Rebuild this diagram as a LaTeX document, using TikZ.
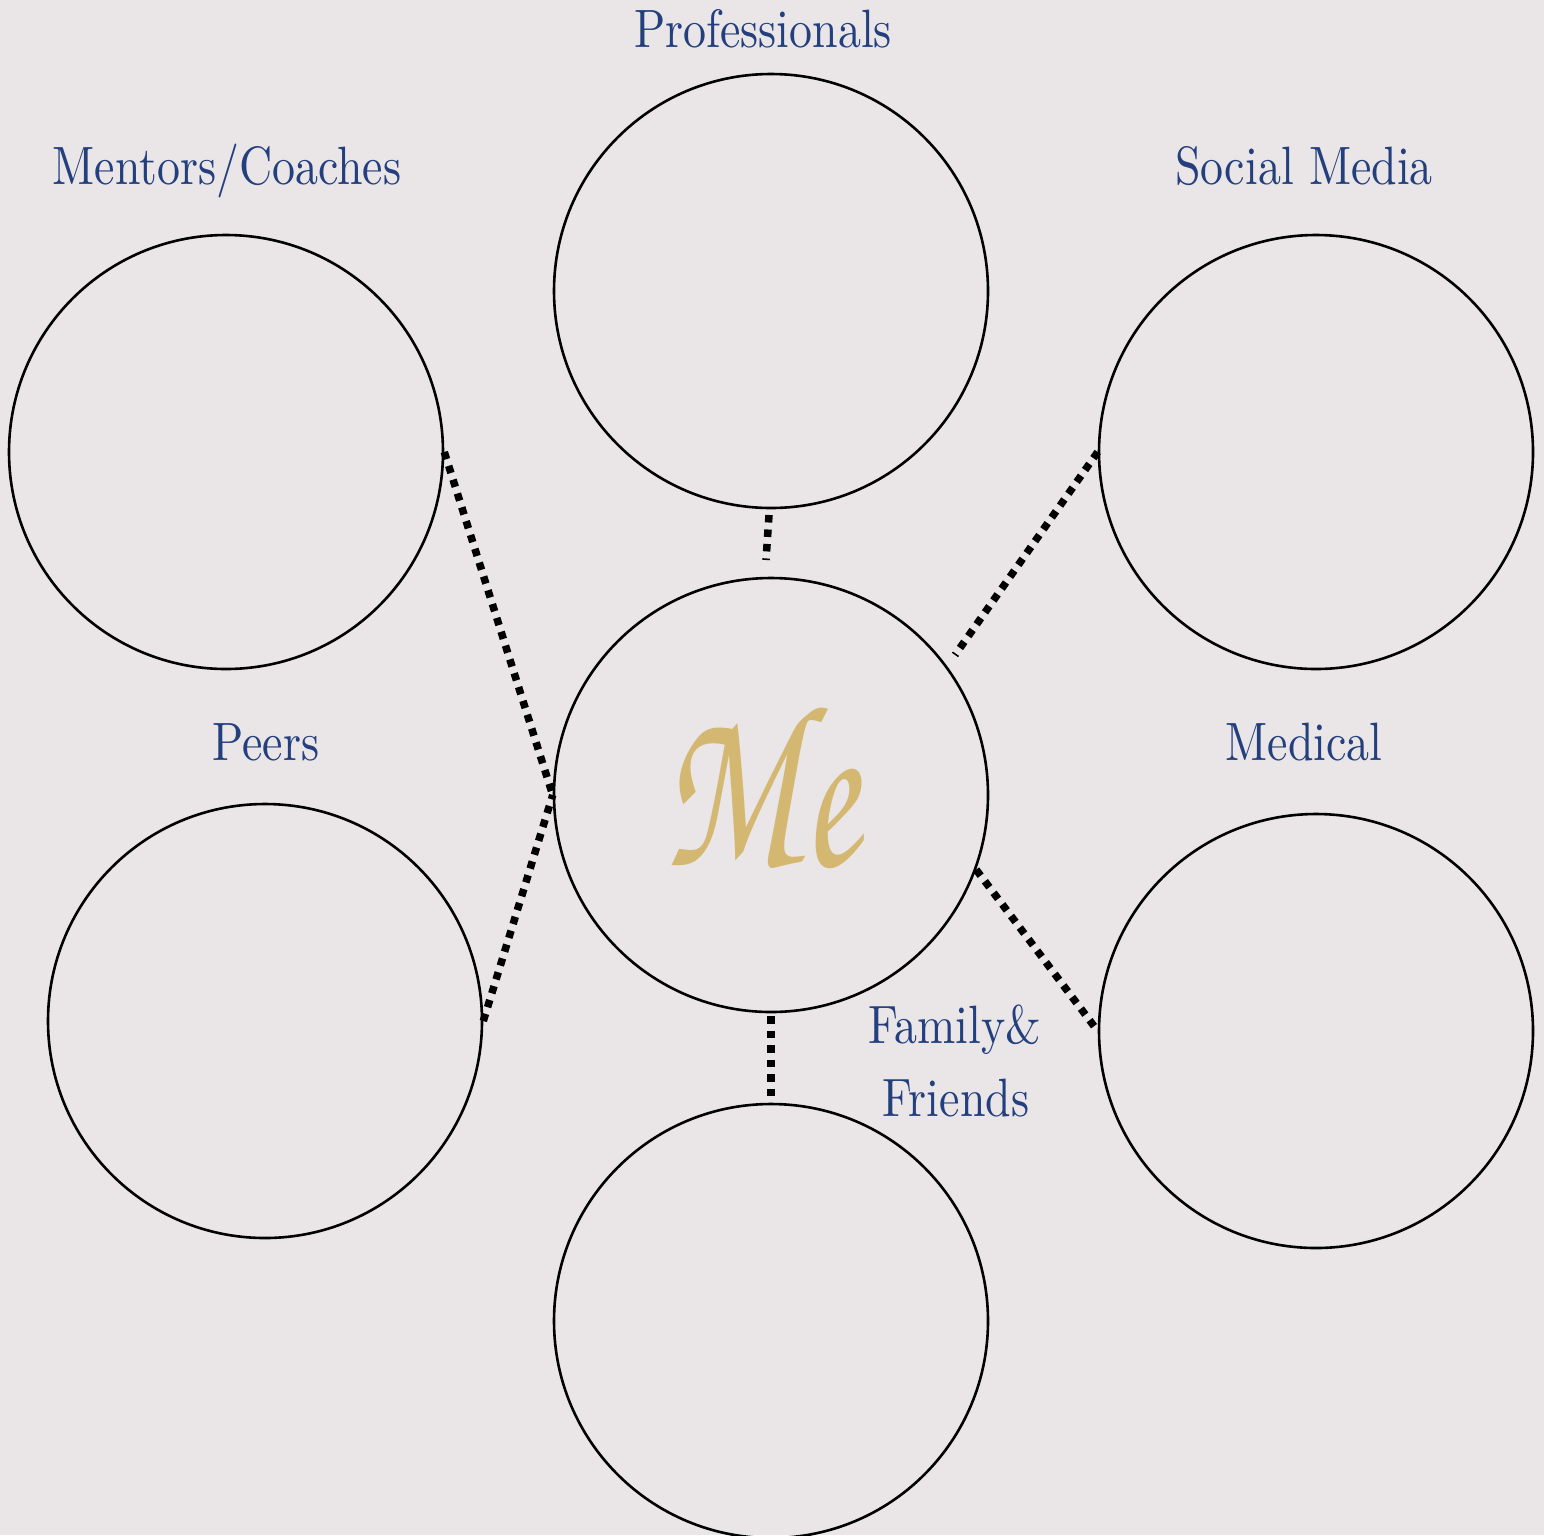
\documentclass[tikz,border=0pt]{standalone}
\usepackage{fontspec}
\setmainfont[FakeStretch=0.85]{lmroman10-regular.otf}
\newfontfamily\mescript[FakeStretch=0.7]{texgyrechorus-mediumitalic.otf}
\definecolor{bg}{HTML}{EAE6E7}
\definecolor{labelblue}{HTML}{233F7E}
\definecolor{gold}{HTML}{D4B872}
\begin{document}
\begin{tikzpicture}[x=1pt,y=-1pt,
  bubble/.style={circle,draw=black,line width=2.6pt,minimum size=434pt,inner sep=0pt},
  dotline/.style={line width=7.5pt,dash pattern=on 7.5pt off 7pt,line cap=butt},
  lbl/.style={text=labelblue,anchor=base,inner sep=0pt,font=\fontsize{54}{73}\selectfont}]
\clip (0,0) rectangle (1544,1535);
\fill[bg] (0,0) rectangle (1544,1535);
% circles
\node[bubble] (prof) at (771,291) {};
\node[bubble] (ment) at (226,452) {};
\node[bubble] (soc) at (1316,452) {};
\node[bubble] (me) at (771,795) {};
\node[bubble] (peer) at (265,1021) {};
\node[bubble] (med) at (1316,1031) {};
\node[bubble] (fam) at (771,1321) {};
% labels
\node[lbl] (lprof) at (763,47) {Professionals};
\node[lbl] (lment) at (227,184) {Mentors/Coaches};
\node[lbl] (lsoc) at (1304,184) {Social Media};
\node[lbl] (lpeer) at (266,760) {Peers};
\node[lbl] (lmed) at (1304,760) {Medical};
\node[lbl] (lfam1) at (955,1043) {Family\&};
\node[lbl] (lfam2) at (956,1116) {Friends};
% Me
\node[text=gold,inner sep=0pt] (metext) at (760,788) {\mescript\fontsize{235}{235}\selectfont Me};
% connectors
\coordinate (profA) at (769,515);
\coordinate (profB) at (766,560);
\coordinate (socB) at (955,655);
\coordinate (famA) at (771,1016);
\draw[dotline] (profA) -- (profB);
\draw[dotline] (ment.east) -- (me.west);
\draw[dotline] (peer.east) -- (me.west);
\draw[dotline] (soc.west) -- (socB);
\draw[dotline] (me.-20) -- (med.west);
\draw[dotline] (famA) -- (fam.north);
\end{tikzpicture}
\end{document}
